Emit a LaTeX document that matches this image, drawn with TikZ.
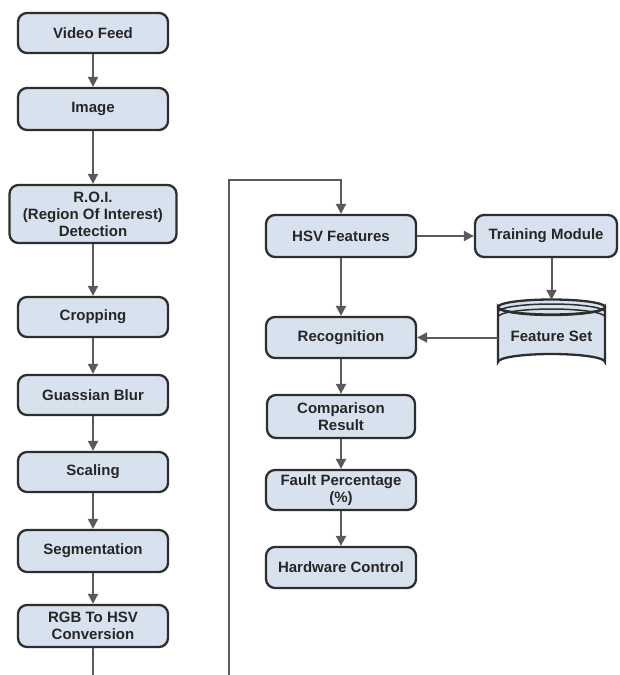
\documentclass[tikz,border=0pt]{standalone}
\usepackage{fontspec}
\setmainfont{Liberation Sans}
\usetikzlibrary{arrows.meta}
\definecolor{boxfill}{HTML}{D8E2EF}
\definecolor{boxdraw}{HTML}{2E2E2E}
\definecolor{arr}{HTML}{5A5A5A}
\tikzset{
  box/.style={draw=boxdraw, line width=2.3pt, fill=boxfill, rounded corners=9pt,
    minimum width=150pt, minimum height=41pt, inner sep=1pt, align=center,
    font=\bfseries\fontsize{15}{17}\selectfont, text=black!85},
  conn/.style={draw=arr, line width=2pt, -{Triangle[length=10pt,width=10pt]}},
}
\begin{document}
\begin{tikzpicture}[x=1pt,y=-1pt]
\useasboundingbox (0,0) rectangle (619,675);
\fill[white] (0,0) rectangle (619,675);
% left column
\node[box, minimum height=40pt] (vf) at (93,33) {Video Feed};
\node[box, minimum height=42pt] (img) at (93,109) {Image};
\node[box, minimum width=167pt, minimum height=58pt] (roi) at (93,214) {R.O.I.\\(Region Of Interest)\\Detection};
\node[box, minimum height=40pt] (crop) at (93,317) {Cropping};
\node[box, minimum height=40pt] (blur) at (93,395) {Guassian Blur};
\node[box, minimum height=40pt] (scal) at (93,472) {Scaling};
\node[box, minimum height=42pt] (seg) at (93,551) {Segmentation};
\node[box, minimum height=42pt] (rgb) at (93,626) {RGB To HSV\\Conversion};
% right column
\node[box, minimum height=42pt] (hsv) at (341,236) {HSV Features};
\node[box, minimum width=142pt, minimum height=42pt] (train) at (546,236) {Training Module};
\node[box, minimum height=41pt] (rec) at (341,337.5) {Recognition};
\node[box, minimum width=148pt, minimum height=43pt] (comp) at (341,416.5) {Comparison\\Result};
\node[box, minimum height=40pt] (fault) at (341,490) {Fault Percentage\\(\%)};
\node[box, minimum height=41pt] (hw) at (341,567.5) {Hardware Control};
% feature set cylinder
\draw[draw=boxdraw, line width=2.3pt, fill=boxfill]
  (498,307) -- (498,362) arc[start angle=180, end angle=360, x radius=53.5, y radius=8]
  -- (605,307) arc[start angle=0, end angle=180, x radius=53.5, y radius=8] -- cycle;
\draw[draw=boxdraw, line width=2.3pt, fill=boxfill]
  (551.5,307) ellipse[x radius=53.5, y radius=7.5];
\draw[draw=boxdraw, line width=1.5pt] (498,312) arc[start angle=180, end angle=360, x radius=53.5, y radius=8];
\draw[draw=boxdraw, line width=1.5pt] (498,317) arc[start angle=180, end angle=360, x radius=53.5, y radius=8];
\node[minimum width=107pt, minimum height=72pt, inner sep=0pt,
  font=\bfseries\fontsize{15}{17}\selectfont, text=black!85] (fs) at (551.5,336) {\raisebox{-4pt}{Feature Set}};
% connectors left
\draw[conn] (vf) -- (img);
\draw[conn] (img) -- (roi);
\draw[conn] (roi) -- (crop);
\draw[conn] (crop) -- (blur);
\draw[conn] (blur) -- (scal);
\draw[conn] (scal) -- (seg);
\draw[conn] (seg) -- (rgb);
% loop
\coordinate (b1) at (93,700);
\coordinate (b2) at (229,700);
\coordinate (t1) at (229,180);
\coordinate (t2) at (341,180);
\draw[conn] (rgb.south) -- (b1) -- (b2) -- (t1) -- (t2) -- (hsv.north);
% connectors right
\draw[conn] (hsv) -- (train);
\draw[conn] (train.south -| fs.north) -- (fs.north);
\draw[conn] (hsv) -- (rec);
\draw[conn] (fs.west |- rec.east) -- (rec.east);
\draw[conn] (rec) -- (comp);
\draw[conn] (comp) -- (fault);
\draw[conn] (fault) -- (hw);
\end{tikzpicture}
\end{document}
